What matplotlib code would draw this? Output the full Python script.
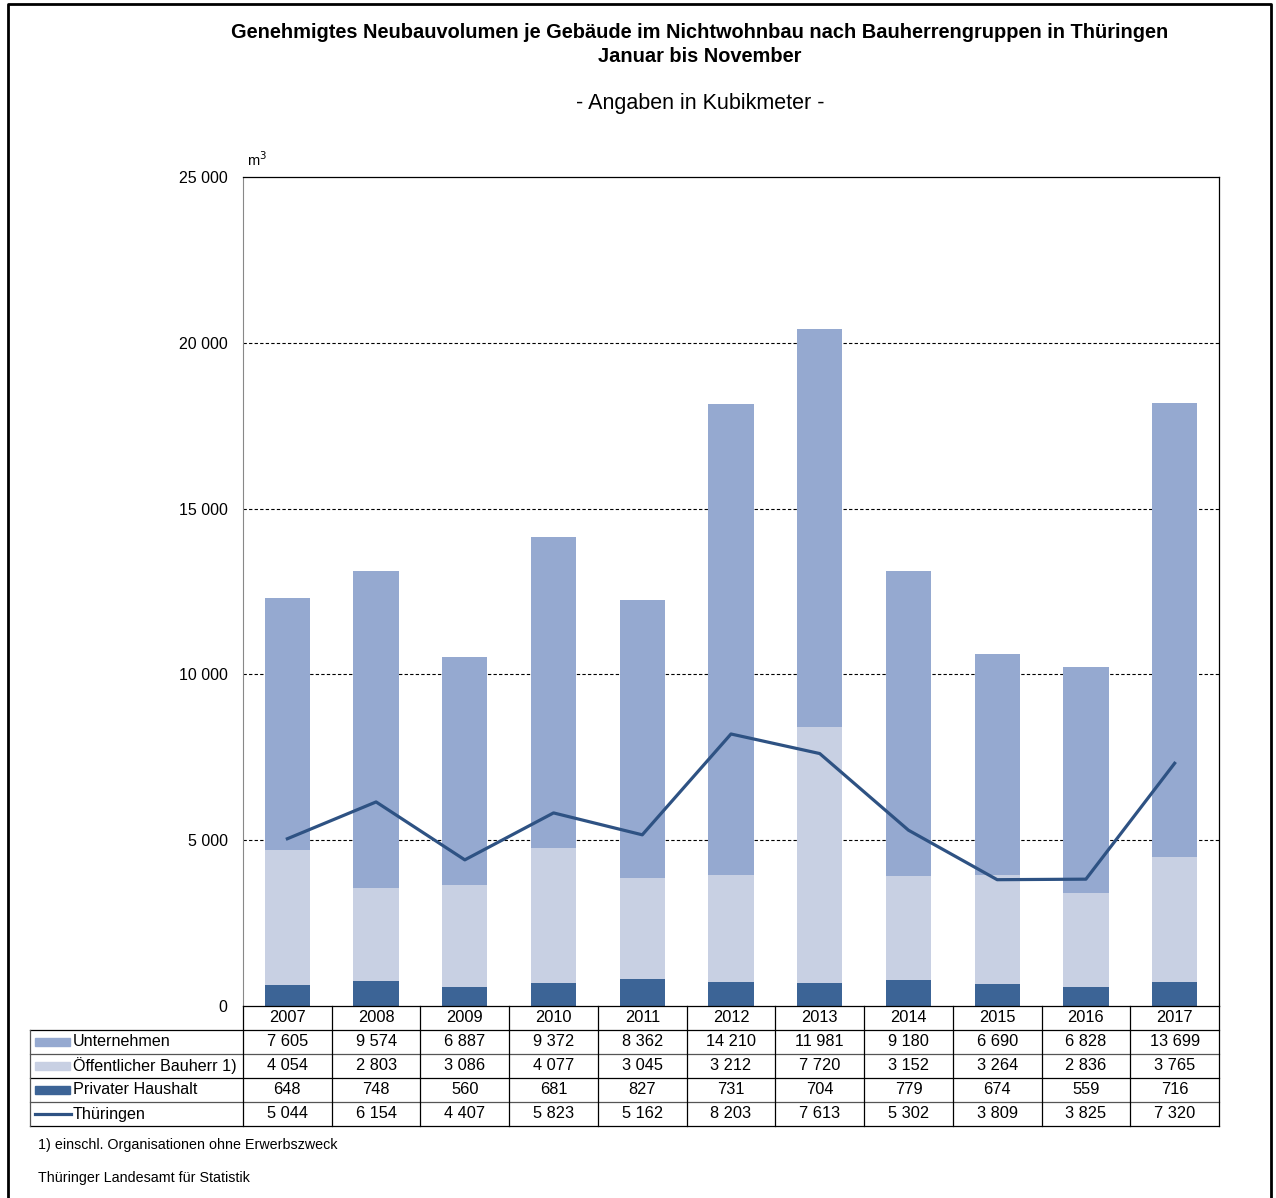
import matplotlib
matplotlib.use("Agg")
import matplotlib.pyplot as plt
import matplotlib.patches as mpatches
import matplotlib.lines as mlines
import numpy as np

plt.rcParams['font.family'] = ['Liberation Sans', 'DejaVu Sans']

years = ['2007', '2008', '2009', '2010', '2011', '2012', '2013', '2014', '2015', '2016', '2017']
unternehmen = [7605, 9574, 6887, 9372, 8362, 14210, 11981, 9180, 6690, 6828, 13699]
oeffentlich = [4054, 2803, 3086, 4077, 3045, 3212, 7720, 3152, 3264, 2836, 3765]
privat = [648, 748, 560, 681, 827, 731, 704, 779, 674, 559, 716]
thueringen = [5044, 6154, 4407, 5823, 5162, 8203, 7613, 5302, 3809, 3825, 7320]

row_labels = ['Unternehmen', 'Öffentlicher Bauherr 1)', 'Privater Haushalt', 'Thüringen']
c_unt = '#95A9D0'
c_oef = '#C8D0E3'
c_pri = '#3C6496'
c_line = '#2E5283'

W, H = 1276, 1198
fig = plt.figure(figsize=(W / 100, H / 100), dpi=100)


def fx(px):
    return px / W


def fy(py):
    return 1 - py / H


def fmt(v):
    return '{:,}'.format(v).replace(',', ' ')


ax = fig.add_axes([fx(243), fy(1006), fx(1219) - fx(243), fy(177) - fy(1006)])
x = np.arange(len(years))
ax.bar(x, privat, width=0.51, color=c_pri, zorder=2)
ax.bar(x, oeffentlich, width=0.51, bottom=privat, color=c_oef, zorder=2)
bottom2 = np.array(privat) + np.array(oeffentlich)
ax.bar(x, unternehmen, width=0.51, bottom=bottom2, color=c_unt, zorder=2)
ax.plot(x, thueringen, color=c_line, lw=2.3, zorder=3)

ax.set_xlim(-0.5, len(years) - 0.5)
ax.set_ylim(0, 25000)
ax.set_yticks(np.arange(0, 25001, 5000))
ax.set_yticklabels([fmt(v) for v in range(0, 25001, 5000)])
ax.tick_params(axis='y', length=0, pad=11, labelsize=11.5)
ax.set_xticks([])
for v in range(5000, 25000, 5000):
    ax.axhline(v, color='black', lw=0.8, ls=(0, (3, 2)), zorder=1)
for s in ['top', 'right']:
    ax.spines[s].set_color('black')
    ax.spines[s].set_linewidth(0.9)
ax.spines['left'].set_color('#888888')
ax.spines['bottom'].set_color('black')
ax.spines['bottom'].set_linewidth(0.9)
ax.text(-0.45, 25250, 'm$^3$', fontsize=10.5, ha='left', va='bottom')

# table below the chart
row_h = 24
top = 1006
tab_left = 30
right_px = 1219
edges = [top + row_h * i for i in range(6)]


def hline(y0, x0, x1, color='black'):
    fig.add_artist(mlines.Line2D([fx(x0), fx(x1)], [fy(y0), fy(y0)], color=color, lw=0.9))


def vline(xp, y0, y1, color='black'):
    fig.add_artist(mlines.Line2D([fx(xp), fx(xp)], [fy(y0), fy(y1)], color=color, lw=0.9))


hline(edges[1], tab_left, right_px)
for i in range(2, 6):
    hline(edges[i], tab_left, right_px, color='#555555' if i in (2, 4) else 'black')
vline(tab_left, edges[1], edges[5], color='#555555')
vline(243, edges[0], edges[5])
for k in range(1, len(years) + 1):
    px = 243 + (right_px - 243) * k / len(years)
    vline(px, edges[0], edges[5])

series = [unternehmen, oeffentlich, privat, thueringen]
for j, yr in enumerate(years):
    cx = 243 + (right_px - 243) * (j + 0.5) / len(years)
    fig.text(fx(cx), fy(edges[0] + row_h / 2), yr, ha='center', va='center', fontsize=11.8)
    for r, vals in enumerate(series):
        fig.text(fx(cx), fy(edges[r + 1] + row_h / 2), fmt(vals[j]),
                 ha='center', va='center', fontsize=11.8)

key_colors = [c_unt, c_oef, c_pri]
for r, lab in enumerate(row_labels):
    cy = edges[r + 1] + row_h / 2
    if r < 3:
        fig.add_artist(mpatches.Rectangle((fx(35), fy(cy + 4)), fx(70) - fx(35), fy(cy - 4) - fy(cy + 4),
                                          color=key_colors[r], transform=fig.transFigure))
    else:
        fig.add_artist(mlines.Line2D([fx(35), fx(71)], [fy(cy), fy(cy)], color=c_line, lw=2.3))
    fig.text(fx(73), fy(cy), lab, ha='left', va='center', fontsize=11.6)

# titles and notes
fig.text(fx(700), fy(33), 'Genehmigtes Neubauvolumen je Gebäude im Nichtwohnbau nach Bauherrengruppen in Thüringen',
         ha='center', va='center', fontsize=14.4, fontweight='bold')
fig.text(fx(700), fy(56), 'Januar bis November', ha='center', va='center', fontsize=14.4, fontweight='bold')
fig.text(fx(700), fy(104), '- Angaben in Kubikmeter -', ha='center', va='center', fontsize=15.5)
fig.text(fx(38), fy(1145), '1) einschl. Organisationen ohne Erwerbszweck', ha='left', va='center', fontsize=10.3)
fig.text(fx(38), fy(1178), 'Thüringer Landesamt für Statistik', ha='left', va='center', fontsize=10.3)

# outer frame
fig.add_artist(mlines.Line2D([fx(8), fx(8), fx(1271), fx(1271)], [0, fy(4), fy(4), 0], color='black', lw=2))

fig.savefig('out.png', dpi=100)
